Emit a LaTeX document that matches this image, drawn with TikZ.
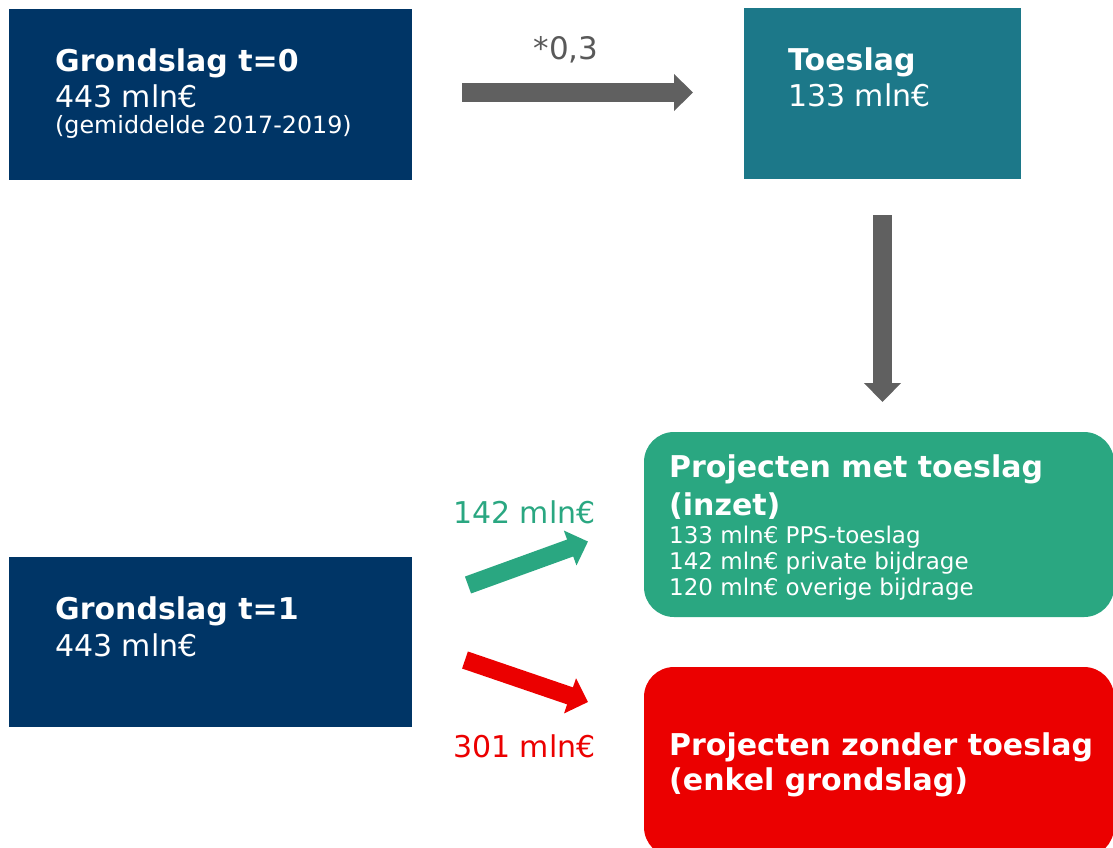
\documentclass[tikz,border=0pt]{standalone}
\usepackage{fontspec}
\setmainfont{DejaVu Sans}
\usetikzlibrary{arrows.meta}
\definecolor{navy}{RGB}{0,53,102}
\definecolor{petrol}{RGB}{28,120,137}
\definecolor{groen}{RGB}{42,167,129}
\definecolor{rood}{RGB}{235,0,0}
\definecolor{grijs}{RGB}{96,96,96}
\definecolor{factor}{RGB}{89,89,89}

\begin{document}
\begin{tikzpicture}[x=1pt, y=-1pt,
		blok/.style={inner sep=0pt, outer sep=0pt, anchor=north west},
		tekst/.style={inner sep=0pt, anchor=base west, align=left, text=white,
			font=\fontsize{30}{36}\selectfont},
		pijl/.style={line width=19pt, -{Triangle[length=19pt, width=36pt]}}]
		\useasboundingbox (0,0) rectangle (1113,847);
		\clip (0,0) rectangle (1113,847);
		% vakken
		\node[blok, fill=navy, minimum width=403pt, minimum height=171pt] (g0) at (9,9) {};
		\node[blok, fill=petrol, minimum width=277pt, minimum height=171pt] (toe) at (744,8) {};
		\node[blok, fill=navy, minimum width=403pt, minimum height=170pt] (g1) at (9,557) {};
		\node[blok, fill=groen, rounded corners=30pt, minimum width=470pt, minimum height=185pt] (pm) at (644,432) {};
		\node[blok, fill=rood, rounded corners=30pt, minimum width=470pt, minimum height=190pt] (pz) at (644,667) {};
		% teksten (ankerpunt = basislijn van de laatste regel)
		\node[tekst] (g0t) at (55,133)
			{\textbf{Grondslag t=0}\\443 mln€\\[-10pt]
			{\fontsize{23.8}{26}\selectfont (gemiddelde 2017-2019)}};
		\node[tekst] (toet) at (788,106) {\textbf{Toeslag}\\133 mln€};
		\node[tekst] (g1t) at (55,656) {\textbf{Grondslag t=1}\\[1pt]443 mln€};
		\node[tekst] (pmt) at (669,595)
			{\textbf{Projecten met toeslag}\\[2pt]\textbf{(inzet)}\\[-8pt]
			{\fontsize{23}{26}\selectfont 133 mln€ PPS-toeslag}\\[-10pt]
			{\fontsize{23}{26}\selectfont 142 mln€ private bijdrage}\\[-10pt]
			{\fontsize{23}{26}\selectfont 120 mln€ overige bijdrage}};
		\node[tekst] (pzt) at (669,790)
			{\textbf{Projecten zonder toeslag}\\[-1pt]\textbf{(enkel grondslag)}};
		% pijlen
		\draw[pijl, grijs, shorten <=50pt, shorten >=51pt]
			([yshift=2pt]g0.east) -- ([yshift=2pt]g0.east -| toe.west)
			node[midway, above=17pt, xshift=-12pt, text=factor,
				font=\fontsize{31}{36}\selectfont] (fac) {*0,3};
		\draw[pijl, grijs, shorten <=36pt, shorten >=30pt] (toe.south) -- (toe.south |- pm.north);
		\draw[pijl, groen, line width=18pt] ([shift={(56,-57)}]g1.east) -- ([shift={(-56,17)}]pm.west);
		\draw[pijl, rood, line width=18pt] ([shift={(53,18)}]g1.east) -- ([shift={(-56,-60)}]pz.west);
		\node[tekst, text=groen] (lgroen) at (453,523) {142 mln€};
		\node[tekst, text=rood] (lrood) at (453,757) {301 mln€};
	\end{tikzpicture}
\end{document}
